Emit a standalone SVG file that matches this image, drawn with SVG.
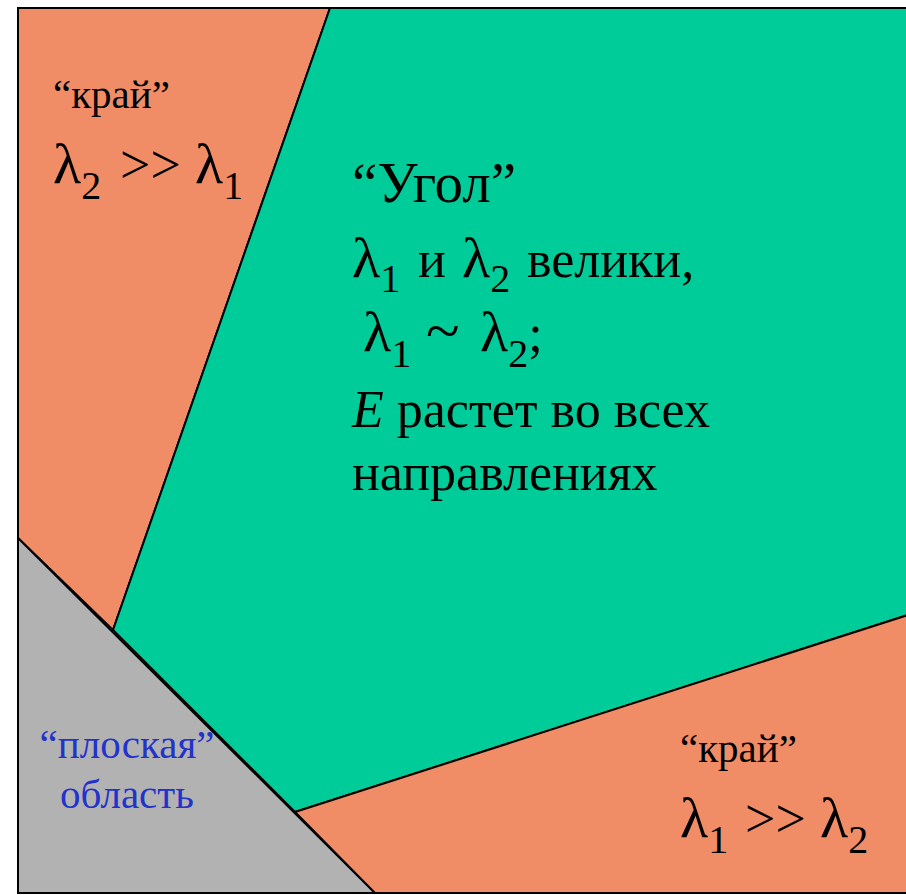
<svg xmlns="http://www.w3.org/2000/svg" width="906" height="895" viewBox="0 0 906 895">
<style>
.edge{fill:#F08C66;stroke:#000;stroke-width:2;stroke-linejoin:miter}
.corner{fill:#00CC99;stroke:#000;stroke-width:2}
.flat{fill:#B2B2B2;stroke:#000;stroke-width:2}
text{font-family:"Liberation Serif","Times New Roman",serif;fill:#000}
.lbl{font-size:41px}
.txt{font-size:52px}
.ttl{font-size:57px}
.lam{font-size:58px}
.sub{font-size:40px}
.blue{fill:#2233CC;font-size:41px}
</style>
<rect x="0" y="0" width="906" height="895" fill="#fff"/>
<g id="edge-top-left">
<polygon class="edge" points="18,8 330,8 113,630 18,538"/>
<text class="lbl" x="53" y="108">“край”</text>
<text class="lam" x="53" y="183">λ<tspan class="sub" dy="16">2</tspan><tspan x="120" dy="-16" font-size="54">&gt;&gt;</tspan><tspan x="195">λ</tspan><tspan class="sub" dy="16">1</tspan></text>
</g>
<g id="corner">
<polygon class="corner" points="330,8 908,8 908,615 295,812 113,630"/>
<text class="ttl" x="352" y="202">“Угол”</text>
<text class="txt" x="352" y="277"><tspan class="lam">λ</tspan><tspan class="sub" dy="15">1</tspan><tspan x="418" dy="-15">и</tspan><tspan class="lam" x="462">λ</tspan><tspan class="sub" dy="15">2</tspan><tspan x="527" dy="-15">велики,</tspan></text>
<text class="txt" x="363" y="351"><tspan class="lam">λ</tspan><tspan class="sub" dy="16">1</tspan><tspan x="426" dy="-16" font-size="62">~</tspan><tspan class="lam" x="480">λ</tspan><tspan class="sub" dy="16">2</tspan><tspan dy="-16">;</tspan></text>
<text class="txt" x="352" y="427"><tspan font-style="italic">E</tspan> растет во всех</text>
<text class="txt" x="352" y="490">направлениях</text>
</g>
<g id="flat">
<polygon class="flat" points="18,538 375,893 18,893"/>
<text class="blue" x="127" y="758" text-anchor="middle">“плоская”</text>
<text class="blue" x="127" y="808" text-anchor="middle">область</text>
</g>
<g id="edge-bottom-right">
<polygon class="edge" points="295,812 908,615 908,893 375,893"/>
<text class="lbl" x="680" y="762">“край”</text>
<text class="lam" x="680" y="837">λ<tspan class="sub" dy="16">1</tspan><tspan x="745" dy="-16" font-size="54">&gt;&gt;</tspan><tspan x="820">λ</tspan><tspan class="sub" dy="16">2</tspan></text>
</g>
<g id="connectors">
<rect x="18" y="8" width="900" height="885" fill="none" stroke="#000" stroke-width="2"/>
</g>
</svg>
